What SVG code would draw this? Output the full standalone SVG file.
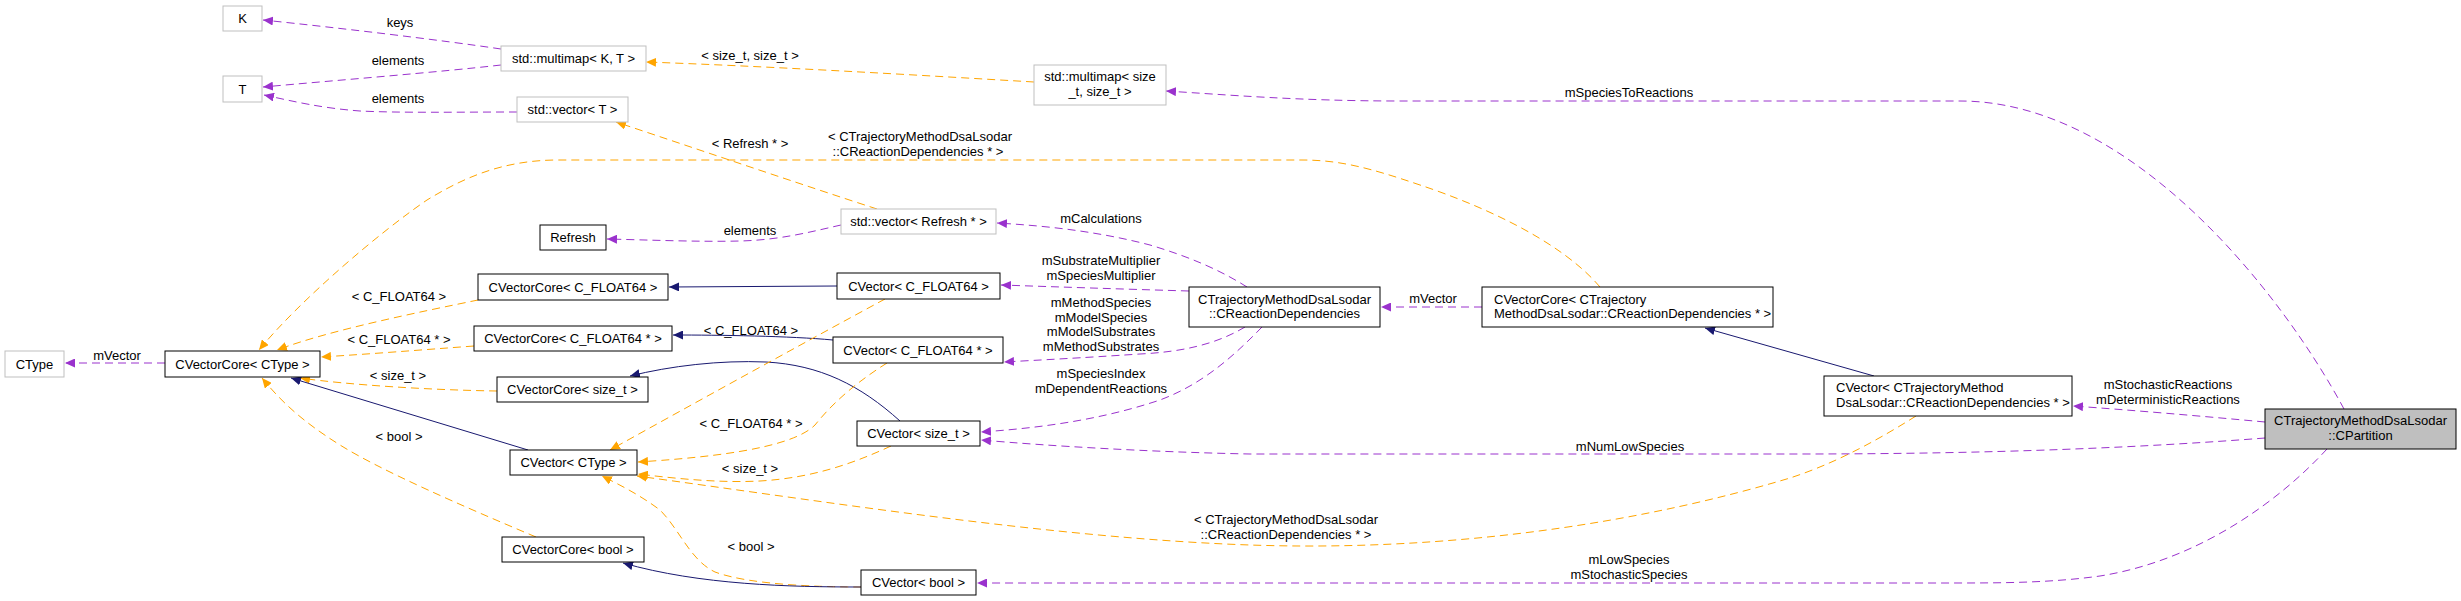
<svg xmlns="http://www.w3.org/2000/svg" width="2461" height="601" viewBox="0 0 2461 601">
<style>
text{font-family:"Liberation Sans",Arial,Helvetica,sans-serif;font-size:13px;fill:#000}
.c{text-anchor:middle}
.n rect{fill:#fff;stroke:#000;stroke-width:1}
.u rect{fill:#fff;stroke:#bfbfbf;stroke-width:1}
.root rect{fill:#bfbfbf;stroke:#000;stroke-width:1}
.p{fill:none;stroke:#9a32cd;stroke-width:1;stroke-dasharray:8,5;marker-end:url(#ap)}
.o{fill:none;stroke:#ffa500;stroke-width:1;stroke-dasharray:8,5;marker-end:url(#ao)}
.b{fill:none;stroke:#191970;stroke-width:1;marker-end:url(#ab)}
</style>
<defs>
<marker id="ap" markerUnits="userSpaceOnUse" markerWidth="11" markerHeight="9" refX="10" refY="4.5" orient="auto"><path d="M0,0 L10,4.5 L0,9 z" fill="#9a32cd"/></marker>
<marker id="ao" markerUnits="userSpaceOnUse" markerWidth="11" markerHeight="9" refX="10" refY="4.5" orient="auto"><path d="M0,0 L10,4.5 L0,9 z" fill="#ffa500"/></marker>
<marker id="ab" markerUnits="userSpaceOnUse" markerWidth="11" markerHeight="9" refX="10" refY="4.5" orient="auto"><path d="M0,0 L10,4.5 L0,9 z" fill="#191970"/></marker>
</defs>
<rect width="2461" height="601" fill="#fff"/>

<g id="connectors">
<path class="p" d="M501,49 C440,40 340,28 263,20"/>
<text class="c" x="400" y="27">keys</text>
<path class="p" d="M501,65 C440,72 340,80 263,87"/>
<text class="c" x="398" y="65">elements</text>
<path class="p" d="M517,112 C460,112 400,113 360,111 C320,108 292,101 264,95"/>
<text class="c" x="398" y="103">elements</text>
<path class="o" d="M1034,82 C900,74 760,66 646,62"/>
<text class="c" x="750" y="60">&lt; size_t, size_t &gt;</text>
<path class="o" d="M877,209 C800,184 700,150 616,122"/>
<text class="c" x="750" y="148">&lt; Refresh * &gt;</text>
<path class="o" d="M1600,287 C1560,240 1480,205 1420,185 C1370,168 1340,160 1302,160 L558,160 C500,160 460,180 427,200 C380,232 300,300 259,350"/>
<text class="c" x="920" y="141">&lt; CTrajectoryMethodDsaLsodar</text>
<text class="c" x="918" y="156">::CReactionDependencies * &gt;</text>
<path class="o" d="M478,300 C420,312 330,330 277,350"/>
<text class="c" x="399" y="301">&lt; C_FLOAT64 &gt;</text>
<path class="o" d="M474,346 C420,350 370,354 321,357"/>
<text class="c" x="399" y="344">&lt; C_FLOAT64 * &gt;</text>
<path class="o" d="M497,391 C430,390 350,385 300,378"/>
<text class="c" x="398" y="380">&lt; size_t &gt;</text>
<path class="b" d="M528,450 L291,378"/>
<path class="o" d="M536,537 C460,505 380,470 340,445 C300,420 280,400 262,378"/>
<text class="c" x="399" y="441">&lt; bool &gt;</text>
<path class="p" d="M165,363 L65,363"/>
<text class="c" x="117" y="360">mVector</text>
<path class="p" d="M841,225 C810,232 780,240 740,241 C700,242 650,240 607,239"/>
<text class="c" x="750" y="235">elements</text>
<path class="b" d="M837,286 L669,287"/>
<path class="b" d="M833,340 C790,336 720,335 673,335"/>
<text class="c" x="751" y="335">&lt; C_FLOAT64 &gt;</text>
<path class="b" d="M900,421 C860,385 820,365 766,362 C720,360 670,366 630,376"/>
<path class="o" d="M885,299 C800,345 700,400 610,450"/>
<path class="o" d="M887,363 C860,380 835,400 815,425 C790,450 700,458 638,462"/>
<text class="c" x="751" y="428">&lt; C_FLOAT64 * &gt;</text>
<path class="o" d="M891,446 C850,465 810,478 760,481 C720,483 680,479 638,474"/>
<text class="c" x="750" y="473">&lt; size_t &gt;</text>
<path class="o" d="M861,587 C820,587 750,585 715,572 C690,560 680,530 660,510 C640,495 620,485 602,476"/>
<text class="c" x="751" y="551">&lt; bool &gt;</text>
<path class="b" d="M861,587 C790,587 700,585 623,563"/>
<path class="o" d="M1916,416 C1870,445 1830,465 1790,478 C1650,520 1480,547 1300,546 C1100,545 850,505 637,476"/>
<text class="c" x="1286" y="524">&lt; CTrajectoryMethodDsaLsodar</text>
<text class="c" x="1286" y="539">::CReactionDependencies * &gt;</text>
<path class="b" d="M1874,376 L1705,328"/>
<path class="p" d="M1482,307 L1381,307"/>
<text class="c" x="1433" y="303">mVector</text>
<path class="p" d="M1247,287 C1220,270 1190,257 1150,245 C1100,232 1050,226 997,223"/>
<text class="c" x="1101" y="223">mCalculations</text>
<path class="p" d="M1189,291 C1120,289 1060,287 1001,285"/>
<text class="c" x="1101" y="265">mSubstrateMultiplier</text>
<text class="c" x="1101" y="280">mSpeciesMultiplier</text>
<path class="p" d="M1245,327 C1215,345 1180,352 1140,354 C1080,358 1040,360 1004,362"/>
<text class="c" x="1101" y="307">mMethodSpecies</text>
<text class="c" x="1101" y="322">mModelSpecies</text>
<text class="c" x="1101" y="336">mModelSubstrates</text>
<text class="c" x="1101" y="351">mMethodSubstrates</text>
<path class="p" d="M1262,327 C1230,360 1200,385 1160,400 C1100,420 1040,428 981,432"/>
<text class="c" x="1101" y="378">mSpeciesIndex</text>
<text class="c" x="1101" y="393">mDependentReactions</text>
<path class="p" d="M2265,438 C2150,447 2000,454 1800,454 L1250,454 C1150,452 1050,446 981,440"/>
<text class="c" x="1630" y="451">mNumLowSpecies</text>
<path class="p" d="M2327,449 C2280,500 2200,560 2100,576 C2050,583 2000,583 1950,583 L977,583"/>
<text class="c" x="1629" y="564">mLowSpecies</text>
<text class="c" x="1629" y="579">mStochasticSpecies</text>
<path class="p" d="M2265,422 C2200,416 2130,410 2073,406"/>
<text class="c" x="2168" y="389">mStochasticReactions</text>
<text class="c" x="2168" y="404">mDeterministicReactions</text>
<path class="p" d="M2344,409 C2280,290 2130,101 1960,101 L1400,101 C1300,101 1230,95 1166,91"/>
<text class="c" x="1629" y="97">mSpeciesToReactions</text>
</g>

<g id="node-K" class="u"><rect x="223" y="6" width="39" height="25"/><text class="c" x="242.5" y="23">K</text></g>
<g id="node-T" class="u"><rect x="223" y="76" width="39" height="26"/><text class="c" x="242.5" y="93.5">T</text></g>
<g id="node-multimapKT" class="u"><rect x="501" y="46" width="145" height="25"/><text class="c" x="573.5" y="63">std::multimap&lt; K, T &gt;</text></g>
<g id="node-vectorT" class="u"><rect x="517" y="97" width="111" height="25"/><text class="c" x="572.5" y="114">std::vector&lt; T &gt;</text></g>
<g id="node-multimapSize" class="u"><rect x="1034" y="65" width="132" height="40"/><text class="c" x="1100" y="81">std::multimap&lt; size</text><text class="c" x="1100" y="96">_t, size_t &gt;</text></g>
<g id="node-Refresh" class="n"><rect x="540" y="225" width="66" height="25"/><text class="c" x="573" y="242">Refresh</text></g>
<g id="node-vectorRefresh" class="u"><rect x="841" y="209" width="155" height="25"/><text class="c" x="918.5" y="226">std::vector&lt; Refresh * &gt;</text></g>
<g id="node-CVectorCoreFloat" class="n"><rect x="478" y="274" width="190" height="26"/><text class="c" x="573" y="291.5">CVectorCore&lt; C_FLOAT64 &gt;</text></g>
<g id="node-CVectorFloat" class="n"><rect x="837" y="273" width="163" height="26"/><text class="c" x="918.5" y="290.5">CVector&lt; C_FLOAT64 &gt;</text></g>
<g id="node-CReactionDependencies" class="n"><rect x="1189" y="287" width="191" height="40"/><text class="c" x="1284.5" y="303.5">CTrajectoryMethodDsaLsodar</text><text class="c" x="1284.5" y="317.5">::CReactionDependencies</text></g>
<g id="node-CVectorCoreDeps" class="n"><rect x="1482" y="287" width="291" height="40"/><text x="1494" y="303.5">CVectorCore&lt; CTrajectory</text><text x="1494" y="317.5">MethodDsaLsodar::CReactionDependencies * &gt;</text></g>
<g id="node-CType" class="u"><rect x="5" y="351" width="59" height="26"/><text class="c" x="34.5" y="368.5">CType</text></g>
<g id="node-CVectorCoreCType" class="n"><rect x="165" y="351" width="155" height="26"/><text class="c" x="242.5" y="368.5">CVectorCore&lt; CType &gt;</text></g>
<g id="node-CVectorCoreFloatPtr" class="n"><rect x="474" y="326" width="198" height="25"/><text class="c" x="573" y="343">CVectorCore&lt; C_FLOAT64 * &gt;</text></g>
<g id="node-CVectorFloatPtr" class="n"><rect x="833" y="337" width="170" height="26"/><text class="c" x="918" y="354.5">CVector&lt; C_FLOAT64 * &gt;</text></g>
<g id="node-CVectorCoreSize" class="n"><rect x="497" y="377" width="151" height="25"/><text class="c" x="572.5" y="394">CVectorCore&lt; size_t &gt;</text></g>
<g id="node-CVectorSize" class="n"><rect x="857" y="421" width="123" height="25"/><text class="c" x="918.5" y="438">CVector&lt; size_t &gt;</text></g>
<g id="node-CVectorCType" class="n"><rect x="510" y="450" width="127" height="25"/><text class="c" x="573.5" y="467">CVector&lt; CType &gt;</text></g>
<g id="node-CVectorCoreBool" class="n"><rect x="502" y="537" width="142" height="25"/><text class="c" x="573" y="554">CVectorCore&lt; bool &gt;</text></g>
<g id="node-CVectorBool" class="n"><rect x="861" y="570" width="115" height="25"/><text class="c" x="918.5" y="587">CVector&lt; bool &gt;</text></g>
<g id="node-CVectorDeps" class="n"><rect x="1824" y="376" width="248" height="40"/><text x="1836" y="392">CVector&lt; CTrajectoryMethod</text><text x="1836" y="407">DsaLsodar::CReactionDependencies * &gt;</text></g>
<g id="node-CPartition" class="root"><rect x="2265" y="409" width="191" height="40"/><text class="c" x="2360.5" y="425">CTrajectoryMethodDsaLsodar</text><text class="c" x="2360.5" y="440">::CPartition</text></g>
</svg>
